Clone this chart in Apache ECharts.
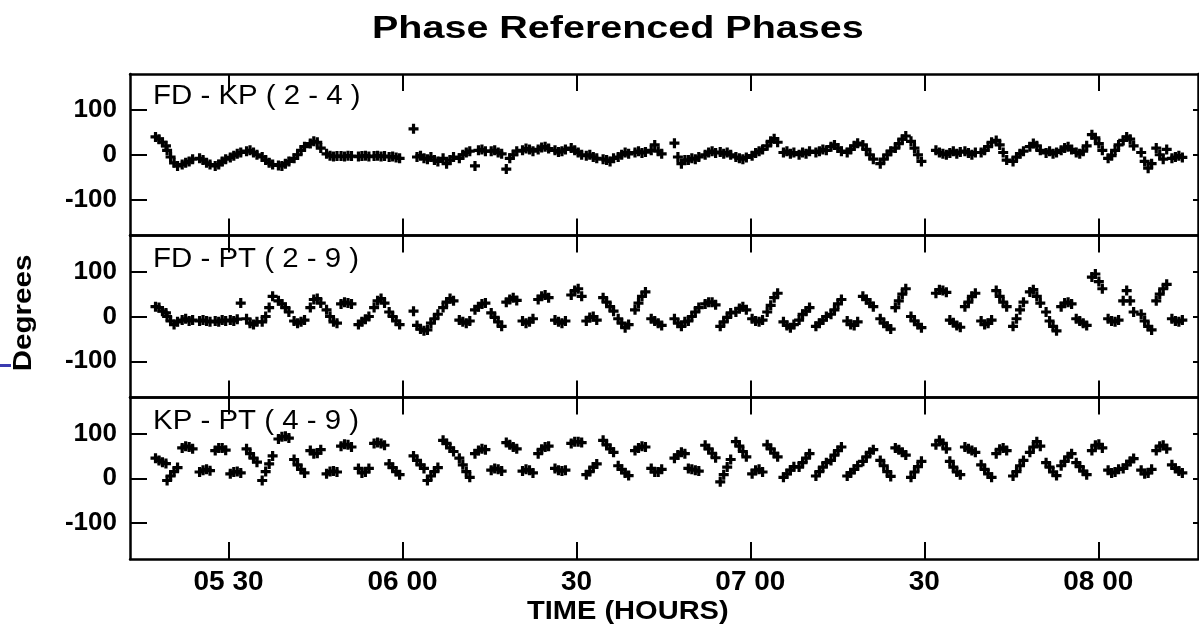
<!DOCTYPE html>
<html>
<head>
<meta charset="utf-8">
<title>Phase Referenced Phases</title>
<script src="https://cdn.jsdelivr.net/npm/echarts@6/dist/echarts.min.js"></script>
<style>
  html, body { margin: 0; padding: 0; background: #fff; }
  #chart { width: 1199px; height: 630px; }
</style>
</head>
<body>
<div id="chart"></div>
<script>
// scan mid times, minutes after 00:00 UT
var scanMid = [
  318.3, 320.3, 322.9, 325.9, 328.6, 331.2, 334.0, 336.7, 339.5, 342.2, 345.0, 347.8, 350.3, 353.3, 356.0, 358.6,
  362.8, 365.2, 367.9, 370.7, 373.4, 376.2, 378.8, 381.6, 384.3, 387.2, 390.0, 392.6, 395.5, 398.1, 401.0, 403.8,
  407.8, 410.2, 413.1, 415.7, 418.4, 421.2, 423.8, 426.6, 429.3, 432.2, 434.8, 437.6, 440.3, 443.3, 445.9, 448.6,
  452.9, 455.3, 457.9, 460.7, 463.3, 466.2, 469.1, 471.9, 474.5, 477.1, 479.8, 482.6, 485.2, 488.3, 490.9, 493.6
];
// sample offsets inside a scan (minutes)
var sampleOffsets = [-0.9, -0.3, 0.3, 0.9];

// phases in degrees, 4 samples per scan
var fdKp = [
  40, 35, 28, 20,   10, -5, -18, -25,  -22, -18, -15, -10,  -8, -12, -18, -22,
  -25, -22, -15, -10, -6, -2, 2, 5,    8, 10, 5, 0,        -5, -12, -18, -22,
  -24, -25, -20, -15, -8, 0, 10, 18,   25, 30, 28, 15,     2, -2, -4, -3,
  -3, -4, -2, -3,    -4, -3, -2, -4,   -3, -2, -4, -3,     -5, -4, -6, -8,
  58, -5, -2, -8,    -10, -5, -12, -15, -8, -20, -12, -5,  -8, 0, 5, 8,
  -25, 10, 12, 8,    8, 10, 5, 2,      -32, -8, 0, 8,      10, 14, 12, 8,
  12, 16, 18, 14,    10, 6, 8, 12,     15, 10, 5, 0,       -2, 0, -5, -8,
  -10, -12, -15, -8, -5, 0, 5, 2,      5, 8, 4, 6,         10, 22, 8, 2,
  26, -5, -20, -12,  -12, -8, -10, -5, 0, 5, 8, 4,         6, 2, 5, 0,
  -5, -8, -10, -6,   -2, 4, 8, 12,     20, 30, 36, 28,     5, 8, 2, 5,
  0, 5, 2, 8,        5, 8, 12, 10,     18, 22, 15, 8,      5, 12, 20, 26,
  22, 12, 0, -10,    -20, -10, 0, 8,   15, 25, 35, 42,     30, 15, 0, -15,
  10, 5, 2, 0,       4, 8, 2, 6,       8, 4, 0, 5,         5, 10, 18, 28,
  32, 22, 5, -12,    -15, -5, 2, 8,    18, 25, 20, 10,     4, 8, 2, 5,
  10, 15, 18, 12,    5, 2, 8, 20,      45, 38, 25, 10,     -8, -2, 10, 22,
  32, 40, 35, 20,    5, -15, -30, -20, 15, 0, -10, 12,     -8, -5, -2, -6
];
var fdPt = [
  22, 20, 12, 8,     0, -10, -18, -12, -8, -5, -10, -8,    -10, -8, -10, -12,
  -10, -12, -8, -10, -8, -10, -6, 30,  -5, -15, -18, -12,  -12, 0, 20, 45,
  35, 28, 20, 10,    -10, -15, -12, -8, 20, 38, 40, 30,    15, 0, -12, -15,
  28, 32, 30, 28,    -18, -12, -6, 0,  20, 35, 40, 30,     10, 0, -10, -18,
  12, -20, -28, -32, -30, -15, -5, 5,  20, 32, 40, 35,     -8, -12, -15, -10,
  15, 22, 28, 30,    8, -2, -12, -22,  32, 38, 42, 36,     -10, -15, -12, -5,
  38, 45, 48, 42,    -8, -12, -15, -10, 48, 58, 62, 45,    -10, -2, 0, -8,
  42, 32, 22, 12,    -5, -15, -25, -18, 15, 30, 45, 55,    -5, -10, -15, -20,
  -5, -15, -22, -12, -10, 0, 10, 20,   28, 32, 32, 26,     -22, -12, -2, 8,
  10, 18, 22, 15,    -5, -10, -12, -8, 10, 25, 42, 52,     -12, -20, -25, -18,
  -8, 5, 12, 20,     -22, -15, -8, 0,  5, 15, 28, 38,      -10, -18, -20, -12,
  45, 38, 30, 22,    -5, -15, -22, -28, 20, 35, 50, 62,    0, -10, -18, -25,
  52, 60, 58, 54,    -8, -14, -20, -24, 22, 32, 45, 52,    -10, -18, -15, -8,
  58, 45, 32, 22,    -22, -5, 15, 32,  55, 60, 45, 30,     10, -10, -22, -32,
  22, 30, 32, 28,    -5, -10, -15, -20, 88, 95, 78, 62,    -5, -10, -12, -8,
  35, 58, 35, 10,    5, -10, -22, -30, 35, 50, 62, 72,     -5, -10, -12, -8
];
var kpPt = [
  45, 40, 36, 33,    -5, 5, 15, 24,    68, 72, 70, 66,     14, 18, 20, 17,
  62, 68, 68, 63,    10, 14, 15, 12,   66, 55, 45, 36,     -5, 15, 32, 50,
  88, 93, 94, 90,    42, 30, 20, 12,   62, 55, 56, 64,     10, 15, 16, 14,
  72, 76, 75, 70,    22, 12, 14, 22,   78, 80, 78, 74,     32, 24, 15, 8,
  50, 40, 30, 22,    -5, 5, 15, 24,    85, 78, 68, 60,     45, 30, 15, 2,
  55, 62, 66, 64,    18, 22, 20, 16,   80, 75, 70, 66,     16, 20, 18, 12,
  55, 65, 70, 72,    22, 18, 16, 18,   78, 82, 82, 80,     8, 15, 25, 32,
  85, 75, 66, 58,    28, 20, 12, 6,    62, 68, 72, 70,     22, 14, 14, 20,
  45, 52, 58, 55,    22, 20, 18, 16,   74, 66, 56, 46,     -8, 8, 25, 42,
  82, 72, 60, 48,    10, 18, 20, 14,   75, 66, 56, 48,     2, 10, 18, 26,
  25, 35, 45, 55,    5, 15, 25, 35,    40, 52, 62, 70,     5, 12, 20, 28,
  38, 48, 58, 64,    40, 28, 15, 4,    68, 64, 58, 52,     2, 14, 26, 38,
  75, 85, 78, 66,    38, 25, 14, 8,    70, 66, 62, 58,     30, 20, 10, 2,
  55, 65, 68, 62,    5, 15, 28, 40,    58, 70, 82, 72,     35, 25, 14, 6,
  28, 38, 48, 55,    35, 26, 16, 8,    62, 74, 76, 68,     18, 12, 14, 20,
  22, 30, 38, 44,    18, 10, 12, 20,   62, 72, 74, 66,     30, 22, 16, 12
];

var panelNames = ['FD - KP ( 2 - 4 )', 'FD - PT ( 2 - 9 )', 'KP - PT ( 4 - 9 )'];
var timeTicks = [330, 360, 390, 420, 450, 480];
var timeLabels = ['05 30', '06 00', '30', '07 00', '30', '08 00'];
var degTicks = [-100, 0, 100];

var FONT = '"Liberation Sans", Arial, Helvetica, sans-serif';
// thick "+" marker
var PLUS = 'path://M3.4,0H6.6V3.4H10V6.6H6.6V10H3.4V6.6H0V3.4H3.4Z';
var panelTop = [74, 235.5, 397.5];
var panelHeight = [161.5, 162, 161.5];

function toPoints(vals) {
  var pts = [];
  scanMid.forEach(function (t, i) {
    sampleOffsets.forEach(function (d, k) {
      pts.push([t + d, vals[i * 4 + k]]);
    });
  });
  return pts;
}
var panelData = [fdKp, fdPt, kpPt];

var grid = [], xAxis = [], yAxis = [], series = [];
for (var i = 0; i < 3; i++) {
  grid.push({ left: 130, right: 1, top: panelTop[i], height: panelHeight[i], outerBoundsMode: 'none' });
  ['bottom', 'top'].forEach(function (pos) {
    xAxis.push({
      gridIndex: i, type: 'value', position: pos, min: 313, max: 497.2,
      axisLine: { show: true, onZero: false, lineStyle: { color: '#000', width: 2.5 } },
      axisTick: { show: true, inside: true, length: 17, customValues: timeTicks, lineStyle: { color: '#000', width: 2 } },
      axisLabel: {
        show: i === 2 && pos === 'bottom', customValues: timeTicks, margin: 9,
        color: '#000', fontFamily: FONT, fontSize: 28, fontWeight: 'bold',
        formatter: function (v) { return timeLabels[timeTicks.indexOf(Math.round(v))] || ''; }
      },
      splitLine: { show: false }
    });
  });
  ['left', 'right'].forEach(function (pos) {
    yAxis.push({
      gridIndex: i, type: 'value', position: pos, min: -181, max: 181,
      axisLine: { show: true, onZero: false, lineStyle: { color: '#000', width: 2.5 } },
      axisTick: { show: true, inside: true, length: pos === 'left' ? 17 : 5, customValues: degTicks, lineStyle: { color: '#000', width: 2 } },
      axisLabel: {
        show: pos === 'left', customValues: degTicks, margin: 13,
        color: '#000', fontFamily: FONT, fontSize: 26, fontWeight: 'bold'
      },
      splitLine: { show: false }
    });
  });
  series.push({
    type: 'scatter', xAxisIndex: i * 2, yAxisIndex: i * 2,
    symbol: PLUS, symbolSize: 10,
    itemStyle: { color: '#000', opacity: 1 },
    silent: true,
    data: toPoints(panelData[i])
  });
}

var graphic = [
  { type: 'text', x: 372, y: 29, scaleX: 1.234,
    style: { text: 'Phase Referenced Phases', font: 'bold 32px ' + FONT, fill: '#000', align: 'left', verticalAlign: 'middle' } },
  { type: 'text', x: 527, y: 612, scaleX: 1.117,
    style: { text: 'TIME (HOURS)', font: 'bold 26px ' + FONT, fill: '#000', align: 'left', verticalAlign: 'middle' } },
  { type: 'text', x: 24, y: 313, rotation: Math.PI / 2, scaleX: 1.137,
    style: { text: 'Degrees', font: 'bold 26px ' + FONT, fill: '#000', align: 'center', verticalAlign: 'middle' } },
  { type: 'rect', shape: { x: 0, y: 364, width: 11, height: 3 }, style: { fill: '#3b3bb0' } }
];
var labelMid = [97, 259.7, 421.7];
panelNames.forEach(function (name, i) {
  graphic.push({ type: 'text', x: 153, y: labelMid[i], scaleX: 1.09, z: 10,
    style: { text: name, font: '27px ' + FONT, fill: '#000', align: 'left', verticalAlign: 'middle' } });
});

var chart = echarts.init(document.getElementById('chart'), null, { renderer: 'canvas' });
chart.setOption({
  animation: false,
  backgroundColor: '#fff',
  grid: grid,
  xAxis: xAxis,
  yAxis: yAxis,
  series: series,
  graphic: graphic
});
</script>
</body>
</html>
